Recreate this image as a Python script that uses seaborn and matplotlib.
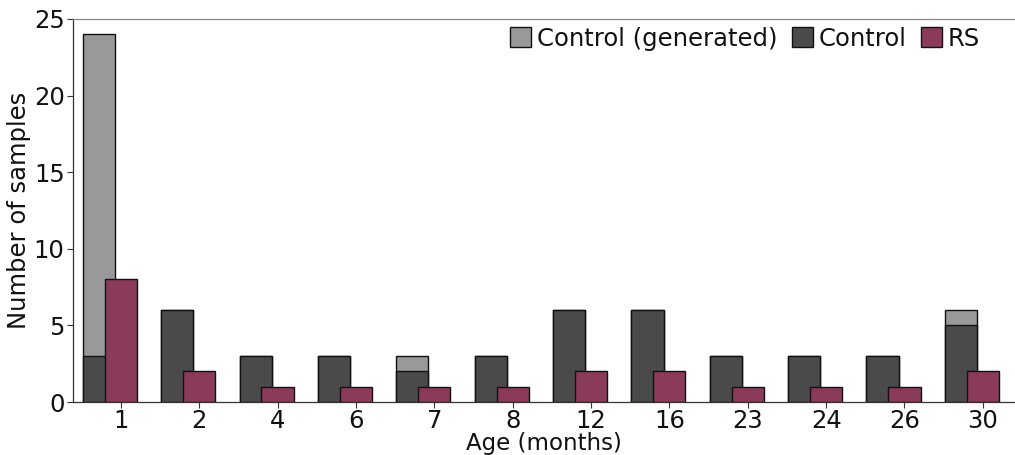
import numpy as np
import pandas as pd
import matplotlib
matplotlib.use("Agg")
import matplotlib.pyplot as plt
import seaborn as sns
from matplotlib.patches import Patch

ages = ["1", "2", "4", "6", "7", "8", "12", "16", "23", "24", "26", "30"]
control = [3, 6, 3, 3, 2, 3, 6, 6, 3, 3, 3, 5]
generated = [21, 0, 0, 0, 1, 0, 0, 0, 0, 0, 0, 1]
rs = [8, 2, 1, 1, 1, 1, 2, 2, 1, 1, 1, 2]

c_gen = "#999999"
c_ctrl = "#4a4a4a"
c_rs = "#8b3a5a"

sns.set_style("white")
plt.rcParams["font.family"] = ["DejaVu Sans"]
plt.rcParams["text.color"] = "#111111"
plt.rcParams["axes.labelcolor"] = "#111111"
plt.rcParams["xtick.color"] = "#111111"
plt.rcParams["ytick.color"] = "#111111"

idx = np.arange(len(ages))
df = pd.DataFrame({
    "pos_ctrl": idx - 0.28,
    "pos_rs": idx.astype(float),
    "total": np.array(control) + np.array(generated),
    "control": control,
    "rs": rs,
})

fig = plt.figure(figsize=(10.15, 4.55), dpi=100)
ax = fig.add_axes([73 / 1015, 53 / 455, (1015 - 73) / 1015, (402 - 19) / 455])

bw = 0.41
kw = dict(native_scale=True, errorbar=None, width=bw, edgecolor="#111111", linewidth=1.0, ax=ax)
sns.barplot(data=df, x="pos_ctrl", y="total", color=c_gen, saturation=1, **kw)
sns.barplot(data=df, x="pos_ctrl", y="control", color=c_ctrl, saturation=1, **kw)
sns.barplot(data=df, x="pos_rs", y="rs", color=c_rs, saturation=1, **kw)

fs = 17.5
ax.set_xlim(-0.61, 11.41)
ax.set_ylim(0, 25)
ax.set_xticks(idx)
ax.set_xticklabels(ages)
ax.set_yticks([0, 5, 10, 15, 20, 25])
ax.tick_params(axis="both", labelsize=fs, length=4, width=0.8, pad=2,
               bottom=True, left=True)
ax.tick_params(axis="x", pad=1)
ax.tick_params(axis="both", color="#333333")
ax.set_xlabel("Age (months)", fontsize=16.5, labelpad=-1)
ax.set_ylabel("Number of samples", fontsize=fs, labelpad=2)

for s in ["left", "bottom"]:
    ax.spines[s].set_color("#333333")
    ax.spines[s].set_linewidth(0.9)
ax.spines["top"].set_color("#888888")
ax.spines["top"].set_linewidth(0.9)
ax.spines["right"].set_visible(False)

handles = [
    Patch(facecolor=c_gen, edgecolor="#111111", label="Control (generated)"),
    Patch(facecolor=c_ctrl, edgecolor="#111111", label="Control"),
    Patch(facecolor=c_rs, edgecolor="#111111", label="RS"),
]
ax.legend(handles=handles, loc="upper right", ncol=3, frameon=False, fontsize=fs,
          handlelength=0.85, handleheight=0.9, handletextpad=0.25, columnspacing=0.6,
          borderaxespad=0.1, bbox_to_anchor=(0.976, 1.012))

fig.savefig("out.png", dpi=100)
